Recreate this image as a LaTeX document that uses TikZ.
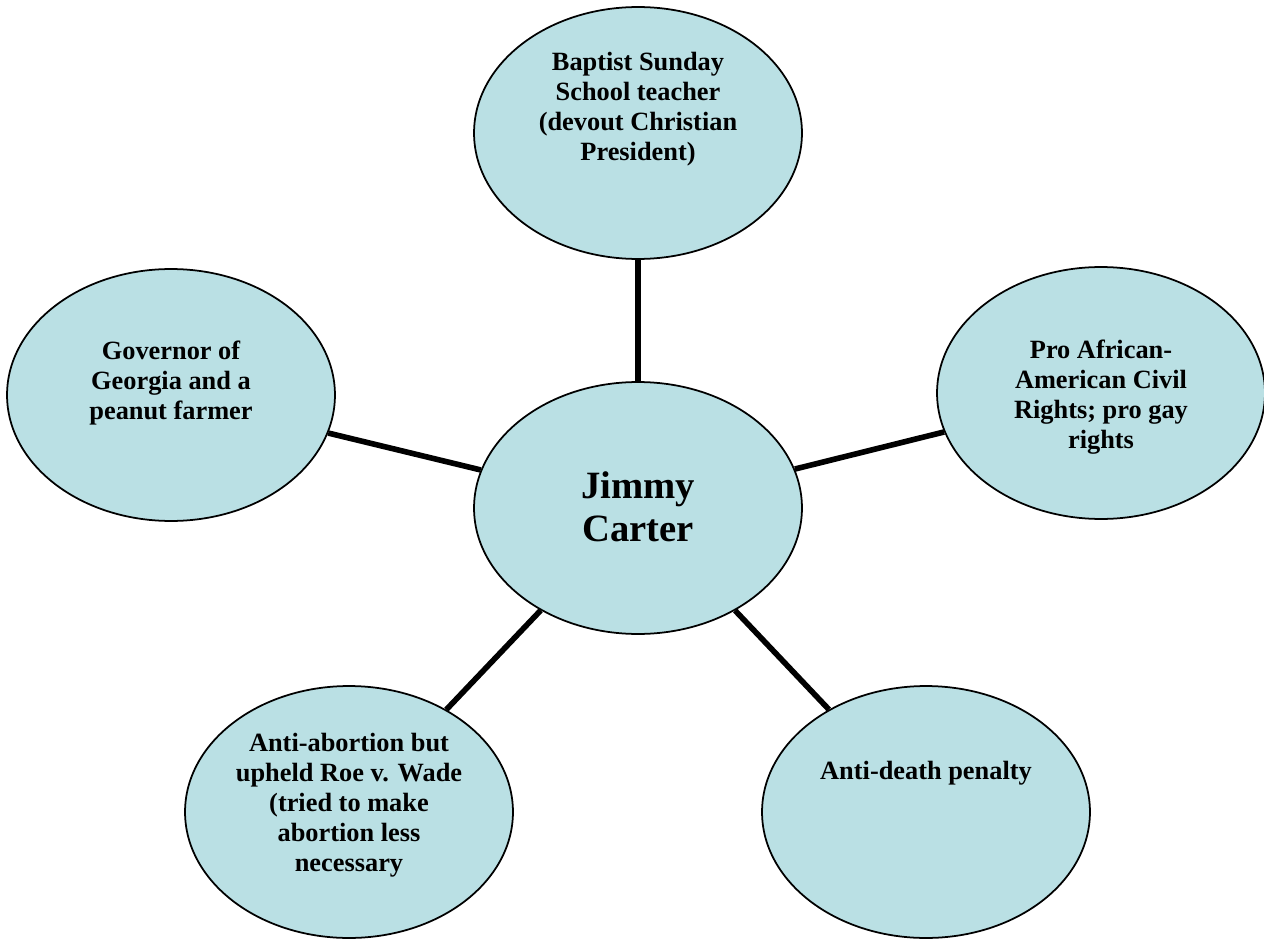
\documentclass[tikz,border=0pt]{standalone}
\usepackage{fontspec}
\setmainfont{Liberation Serif}
\usetikzlibrary{shapes.geometric}
\definecolor{bubblefill}{RGB}{186,224,228}
\begin{document}
\begin{tikzpicture}[x=0.02cm,y=-0.02cm,
    bubble/.style={draw, ellipse, fill=bubblefill, line width=1pt, minimum width=6.56cm, minimum height=5.04cm, inner sep=0pt},
    txt/.style={align=center, font=\fontsize{15}{17}\selectfont\bfseries},
    spoke/.style={draw, line width=3.2pt}]
        \useasboundingbox (0,0) rectangle (1264,939);
        \node[bubble] (carter) at (638,508) {};
        \node[bubble] (baptist) at (638,133) {};
        \node[bubble] (governor) at (171,395) {};
        \node[bubble] (rights) at (1101,393) {};
        \node[bubble] (abortion) at (349,812) {};
        \node[bubble] (death) at (926,812) {};

        \node[align=center, font=\fontsize{22}{24.5}\selectfont\bfseries] (carterT) at (638,507) {Jimmy\\Carter};
        \node[txt] (baptistT) at (638,109) {Baptist Sunday\\School teacher\\(devout Christian\\President)};
        \node[txt] (governorT) at (171,383) {Governor of\\Georgia and a\\peanut farmer};
        \node[txt] (rightsT) at (1101,397) {Pro African-\\American Civil\\Rights; pro gay\\rights};
        \node[txt] (abortionT) at (349,805) {Anti-abortion but\\upheld Roe v. Wade\\(tried to make\\abortion less\\necessary};
        \node[txt] (deathT) at (926,773) {Anti-death penalty};

        \path[spoke] (carter) -- (baptist);
        \path[spoke] (carter) -- (governor);
        \path[spoke] (carter) -- (rights);
        \path[spoke] (carter) -- (abortion);
        \path[spoke] (carter) -- (death);
\end{tikzpicture}
\end{document}
